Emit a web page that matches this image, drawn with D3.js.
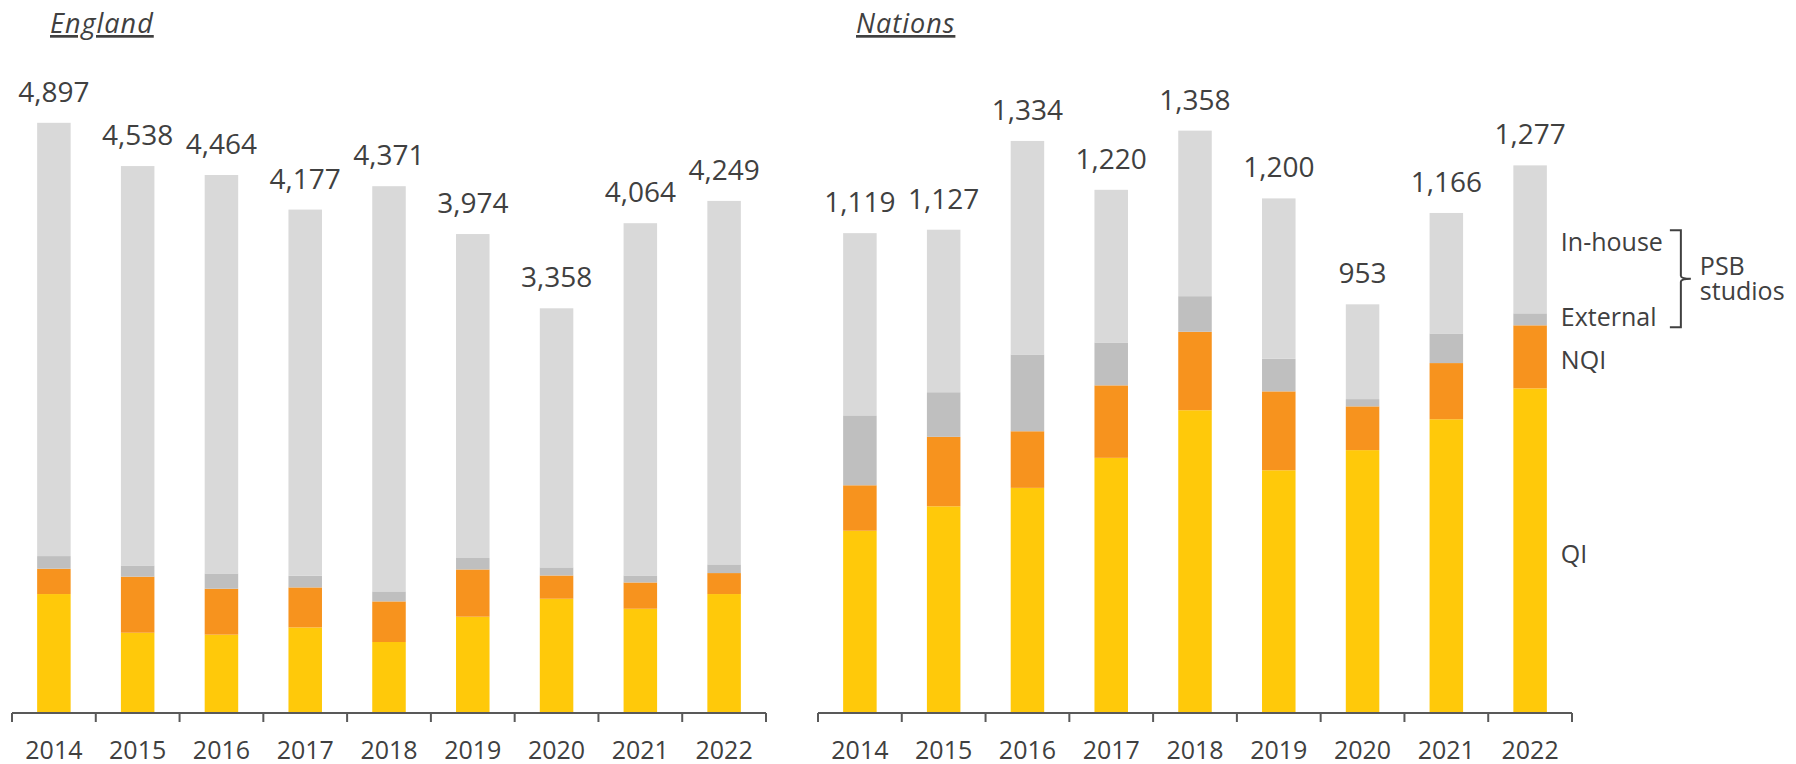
<!DOCTYPE html>
<html>
<head>
<meta charset="utf-8">
<script src="https://cdn.jsdelivr.net/npm/d3@7"></script>
<style>
  body { margin: 0; background: #fff; }
  text { font-family: "Open Sans", sans-serif; fill: #404040; }
</style>
</head>
<body>
<script>
// data
var years = ["2014", "2015", "2016", "2017", "2018", "2019", "2020", "2021", "2022"];

var englandQI       = [987, 666, 650, 710, 589, 799, 948, 865, 987];
var englandNQI      = [210, 465, 381, 332, 337, 392, 193, 218, 174];
var englandExternal = [105, 93, 127, 97, 83, 95, 67, 58, 72];
var englandInHouse  = [3595, 3314, 3306, 3038, 3362, 2688, 2150, 2923, 3016];
var englandTotal    = [4897, 4538, 4464, 4177, 4371, 3974, 3358, 4064, 4249];

var nationsQI       = [425, 482, 525, 595, 706, 566, 613, 685, 757];
var nationsNQI      = [106, 162, 132, 169, 183, 184, 102, 131, 147];
var nationsExternal = [163, 104, 179, 100, 83, 76, 17, 69, 28];
var nationsInHouse  = [425, 379, 498, 356, 386, 374, 221, 281, 345];
var nationsTotal    = [1119, 1127, 1334, 1220, 1358, 1200, 953, 1166, 1277];

var seriesKeys = ["QI", "NQI", "External", "In-house"];
var colours = ["#FFC90A", "#F7931E", "#BFBFBF", "#D9D9D9"];

var width = 1796, height = 764,
    axisY = 713, plotTop = 20;

var svg = d3.select("body").append("svg")
    .attr("width", width)
    .attr("height", height);

var colour = d3.scaleOrdinal().domain(seriesKeys).range(colours);
var fmt = d3.format(",");

function rows(qi, nqi, ext, inh) {
  return years.map(function(y, i) {
    return {year: y, "QI": qi[i], "NQI": nqi[i], "External": ext[i], "In-house": inh[i]};
  });
}

function drawPanel(opts) {
  var data = rows(opts.qi, opts.nqi, opts.ext, opts.inh);
  var stack = d3.stack().keys(seriesKeys)(data);

  var x = d3.scaleBand()
      .domain(years)
      .range([opts.left, opts.right])
      .paddingInner(0.6)
      .paddingOuter(0.3);

  var y = d3.scaleLinear()
      .domain([0, opts.yMax])
      .range([axisY, plotTop]);

  var g = svg.append("g");

  // title
  g.append("text")
      .attr("x", opts.left + 38)
      .attr("y", 33)
      .style("font-size", "27px")
      .style("letter-spacing", "1px")
      .style("font-style", "italic")
      .style("text-decoration", "underline")
      .text(opts.title);

  // stacked bars
  g.selectAll(".layer")
      .data(stack)
    .enter().append("g")
      .attr("class", "layer")
      .attr("fill", function(d) { return colour(d.key); })
    .selectAll("rect")
      .data(function(d) { return d; })
    .enter().append("rect")
      .attr("x", function(d) { return x(d.data.year); })
      .attr("width", x.bandwidth())
      .attr("y", function(d) { return y(d[1]); })
      .attr("height", function(d) { return y(d[0]) - y(d[1]); });

  // totals above bars
  g.selectAll(".total")
      .data(data)
    .enter().append("text")
      .attr("class", "total")
      .attr("x", function(d) { return x(d.year) + x.bandwidth() / 2; })
      .attr("y", function(d, i) { return y(stack[3][i][1]) - 21; })
      .attr("text-anchor", "middle")
      .style("font-size", "28px")
      .text(function(d, i) { return fmt(opts.total[i]); });

  // x axis: labels at centres, ticks between bands
  var axis = g.append("g")
      .attr("transform", "translate(0," + axisY + ")")
      .call(d3.axisBottom(x).tickSize(0).tickPadding(28));
  axis.select(".domain").remove();
  axis.selectAll("text")
      .attr("fill", "#404040")
      .style("font-family", "'Open Sans', sans-serif")
      .style("font-size", "25px");

  var bounds = d3.range(years.length + 1).map(function(i) { return opts.left + i * x.step(); });
  g.append("line")
      .attr("x1", opts.left).attr("x2", opts.right)
      .attr("y1", axisY).attr("y2", axisY)
      .attr("stroke", "#595959").attr("stroke-width", 2);
  g.selectAll(".btick")
      .data(bounds)
    .enter().append("line")
      .attr("class", "btick")
      .attr("x1", function(d) { return d; }).attr("x2", function(d) { return d; })
      .attr("y1", axisY).attr("y2", axisY + 9)
      .attr("stroke", "#595959").attr("stroke-width", 2);

  return {x: x, y: y, stack: stack};
}

var eng = drawPanel({
  title: "England", left: 12, right: 766, yMax: 5750,
  qi: englandQI, nqi: englandNQI, ext: englandExternal, inh: englandInHouse, total: englandTotal
});

var nat = drawPanel({
  title: "Nations", left: 818, right: 1572, yMax: 1616,
  qi: nationsQI, nqi: nationsNQI, ext: nationsExternal, inh: nationsInHouse, total: nationsTotal
});

// legend beside the last Nations bar
var last = years.length - 1;
var legendX = nat.x(years[last]) + nat.x.bandwidth() + 14;
var legendY = {};
nat.stack.forEach(function(s) {
  var mid = (s[last][0] + s[last][1]) / 2;
  legendY[s.key] = nat.y(mid) + 12;
});
legendY["External"] -= 5;

svg.selectAll(".legend")
    .data(seriesKeys)
  .enter().append("text")
    .attr("class", "legend")
    .attr("x", legendX)
    .attr("y", function(d) { return legendY[d]; })
    .style("font-size", "25px")
    .text(function(d) { return d; });

// bracket for PSB studios
var bTop = legendY["In-house"] - 21,
    bBot = legendY["External"] + 1,
    bMid = (bTop + bBot) / 2,
    hx = legendX + 109, vx = hx + 11, nx = vx + 10;

svg.append("path")
    .attr("d", "M" + hx + "," + bTop +
               " L" + vx + "," + bTop +
               " L" + vx + "," + (bMid - 3) +
               " Q" + vx + "," + bMid + " " + nx + "," + bMid +
               " Q" + vx + "," + bMid + " " + vx + "," + (bMid + 3) +
               " L" + vx + "," + bBot +
               " L" + hx + "," + bBot)
    .attr("fill", "none")
    .attr("stroke", "#404040")
    .attr("stroke-width", 2);

svg.append("text")
    .attr("x", nx + 9)
    .attr("y", bMid - 4)
    .style("font-size", "25px")
    .text("PSB");
svg.append("text")
    .attr("x", nx + 9)
    .attr("y", bMid + 21)
    .style("font-size", "25px")
    .text("studios");
</script>
</body>
</html>
